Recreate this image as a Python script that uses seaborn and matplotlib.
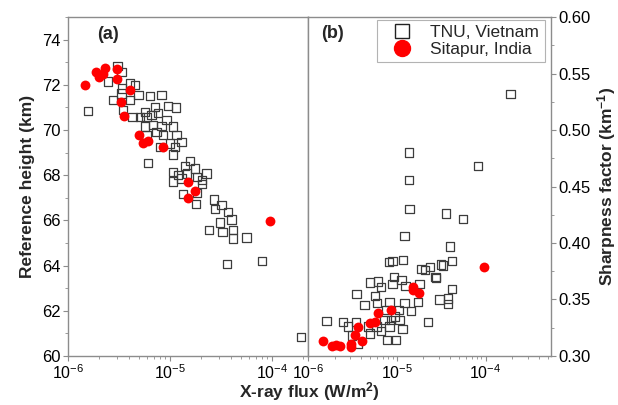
import numpy as np
import pandas as pd
import matplotlib
matplotlib.use("Agg")
import matplotlib.pyplot as plt
import seaborn as sns
from matplotlib.lines import Line2D
from matplotlib.ticker import LogLocator, MultipleLocator, NullFormatter, FormatStrFormatter

# ---------------- data ----------------
tnu_a_flux = [3.05e-6, 3.36e-6, 2.48e-6, 3.41e-6, 4.06e-6, 4.54e-6, 3.36e-6, 4.06e-6, 4.9e-6, 2.78e-6,
              6.37e-6, 8.28e-6, 3.48e-6, 5.69e-6, 7.13e-6, 9.6e-6, 1.15e-5, 4.31e-6, 5.08e-6, 5.9e-6,
              6.6e-6, 7.67e-6, 9.27e-6, 5.69e-6, 6.87e-6, 8.28e-6, 1.08e-5, 5.9e-6, 7.4e-6, 8.6e-6,
              1.16e-5, 1.3e-5, 7.98e-6, 1.0e-5, 1.12e-5, 6.12e-6, 1.08e-5, 1.57e-5, 1.4e-5, 1.76e-5,
              1.08e-5, 1.2e-5, 1.46e-5, 1.83e-5, 2.29e-5, 1.3e-5, 2.05e-5, 1.08e-5, 2.05e-5, 1.35e-5,
              1.83e-5, 1.8e-5, 2.72e-5, 2.76e-5, 3.21e-5, 3.73e-5, 3.09e-5, 4.03e-5, 2.41e-5, 3.29e-5,
              4.18e-5, 4.18e-5, 5.65e-5, 3.65e-5, 8.04e-5, 1.92e-4, 1.57e-6]
tnu_a_height = [72.83, 72.58, 72.14, 71.84, 72.06, 71.99, 71.62, 71.33, 71.55, 71.33,
                71.5, 71.55, 70.88, 70.81, 71.03, 71.06, 71.0, 70.59, 70.59, 70.59,
                70.66, 70.74, 70.44, 70.15, 70.22, 70.18, 70.15, 69.78, 69.92, 69.78,
                69.78, 69.48, 69.26, 69.41, 69.26, 68.55, 68.92, 68.63, 68.42, 68.3,
                68.15, 68.0, 68.08, 67.93, 68.08, 67.86, 67.79, 67.72, 67.6, 67.17,
                67.2, 66.73, 66.93, 66.5, 66.68, 66.38, 65.9, 66.04, 65.58, 65.5,
                65.58, 65.2, 65.25, 64.06, 64.2, 60.83, 70.84]

sit_a_flux = [1.47e-6, 1.88e-6, 2.0e-6, 2.2e-6, 2.3e-6, 3.0e-6, 3.0e-6, 4.07e-6, 3.3e-6,
              3.55e-6, 5.0e-6, 5.45e-6, 6.1e-6, 8.5e-6, 1.5e-5, 1.76e-5, 1.5e-5, 9.5e-5]
sit_a_height = [72.0, 72.57, 72.35, 72.5, 72.74, 72.7, 72.26, 71.77, 71.24,
                70.6, 69.78, 69.42, 69.5, 69.25, 67.7, 67.3, 67.0, 65.97]

tnu_b_flux = [1.91e-4, 1.37e-5, 8.18e-5, 1.37e-5, 1.40e-5, 3.61e-5, 5.56e-5, 1.23e-5, 4.01e-5, 8.2e-6,
              8.95e-6, 1.18e-5, 1.9e-5, 2.07e-5, 2.39e-5, 3.17e-5, 3.31e-5, 4.18e-5, 2.74e-5, 2.77e-5,
              9.33e-6, 1.13e-5, 8.95e-6, 1.26e-5, 1.81e-5, 4.98e-6, 6.17e-6, 6.72e-6, 5.66e-6, 3.52e-6,
              4.21e-5, 3.04e-5, 3.76e-5, 3.76e-5, 8.33e-6, 1.23e-5, 1.74e-5, 4.36e-6, 6.01e-6, 7.66e-6,
              1.06e-5, 1.46e-5, 2.25e-5, 1.62e-6, 2.49e-6, 2.84e-6, 3.46e-6, 4.77e-6, 5.92e-6, 7.33e-6,
              8.33e-6, 1.08e-5, 1.16e-5, 6.72e-6, 3.17e-6, 4.98e-6, 3.67e-6, 7.78e-6, 9.75e-6, 9.5e-6,
              8.7e-6]
tnu_b_sharp = [0.532, 0.480, 0.468, 0.456, 0.430, 0.426, 0.421, 0.406, 0.397, 0.383,
               0.384, 0.385, 0.377, 0.376, 0.379, 0.381, 0.380, 0.384, 0.370, 0.369,
               0.370, 0.367, 0.364, 0.362, 0.364, 0.365, 0.366, 0.361, 0.353, 0.355,
               0.359, 0.350, 0.351, 0.346, 0.348, 0.347, 0.348, 0.345, 0.347, 0.341,
               0.341, 0.340, 0.330, 0.331, 0.330, 0.326, 0.330, 0.326, 0.326, 0.332,
               0.326, 0.332, 0.324, 0.322, 0.318, 0.320, 0.311, 0.314, 0.314, 0.335,
               0.332]

sit_b_flux = [1.49e-6, 1.89e-6, 2.1e-6, 2.33e-6, 3.1e-6, 3.1e-6, 4.12e-6, 3.37e-6, 3.67e-6,
              4.98e-6, 5.66e-6, 6.17e-6, 8.7e-6, 1.52e-5, 1.52e-5, 1.78e-5, 9.58e-5]
sit_b_sharp = [0.313, 0.309, 0.310, 0.309, 0.311, 0.308, 0.313, 0.319, 0.326,
               0.329, 0.330, 0.338, 0.341, 0.361, 0.358, 0.356, 0.379]

series_names = ["TNU, Vietnam", "Sitapur, India"]
panel_labels = ["(a)", "(b)"]

# ---------------- style ----------------
sns.set_style("ticks")
plt.rcParams['font.family'] = ['Liberation Sans', 'DejaVu Sans']
plt.rcParams['mathtext.fontset'] = 'custom'
plt.rcParams['mathtext.rm'] = 'Liberation Sans'
plt.rcParams['mathtext.it'] = 'Liberation Sans:italic'
plt.rcParams['mathtext.bf'] = 'Liberation Sans:bold'
plt.rcParams['mathtext.default'] = 'regular'

spine_c = '#8c8c8c'
sq_c = '#3c3c3c'
red = '#ff0000'

fig = plt.figure(figsize=(6.18, 4.05), dpi=100)
axa = fig.add_axes([0.110, 0.121, 0.388, 0.837])
axb = fig.add_axes([0.498, 0.121, 0.393, 0.837])

sns.scatterplot(x=tnu_a_flux, y=tnu_a_height, ax=axa, marker='s', s=36,
                facecolors='none', edgecolor=sq_c, linewidth=0.9, zorder=2)
sns.scatterplot(x=sit_a_flux, y=sit_a_height, ax=axa, marker='o', s=50,
                color=red, edgecolor=red, linewidth=0, zorder=3)
sns.scatterplot(x=tnu_b_flux, y=tnu_b_sharp, ax=axb, marker='s', s=36,
                facecolors='none', edgecolor=sq_c, linewidth=0.9, zorder=2)
sns.scatterplot(x=sit_b_flux, y=sit_b_sharp, ax=axb, marker='o', s=50,
                color=red, edgecolor=red, linewidth=0, zorder=3)

for ax, xmax in [(axa, 2.25e-4), (axb, 5.4e-4)]:
    ax.set_xscale('log')
    ax.set_xlim(1e-6, xmax)
    ax.xaxis.set_major_locator(LogLocator(base=10, numticks=10))
    ax.xaxis.set_minor_locator(LogLocator(base=10, subs=np.arange(2, 10), numticks=10))
    ax.xaxis.set_minor_formatter(NullFormatter())
    for sp in ax.spines.values():
        sp.set_color(spine_c)
        sp.set_linewidth(1.0)
    ax.tick_params(which='both', direction='out', color=spine_c, labelcolor='black')
    ax.tick_params(axis='y', labelsize=12)
    ax.tick_params(axis='x', labelsize=11.5)
    ax.tick_params(which='major', length=3.5, width=0.8, pad=2)
    ax.tick_params(which='minor', length=2, width=0.6)
    ax.set_xlabel('')
    ax.set_ylabel('')

axa.set_ylim(60, 75)
axa.yaxis.set_major_locator(MultipleLocator(2))
axa.yaxis.set_minor_locator(MultipleLocator(1))
axa.set_ylabel('Reference height (km)', fontsize=12.5, fontweight='bold', labelpad=5)

axb.set_ylim(0.30, 0.60)
axb.yaxis.set_major_locator(MultipleLocator(0.05))
axb.yaxis.set_minor_locator(MultipleLocator(0.025))
axb.yaxis.tick_right()
axb.yaxis.set_label_position('right')
axb.yaxis.set_major_formatter(FormatStrFormatter('%.2f'))
axb.set_ylabel('Sharpness factor (km$^{-1}$)', fontsize=12.5, fontweight='bold',
               labelpad=3)

axa.text(0.12, 0.947, panel_labels[0], transform=axa.transAxes, fontsize=13,
         fontweight='bold', va='center', ha='left')
axb.text(0.057, 0.95, panel_labels[1], transform=axb.transAxes, fontsize=13,
         fontweight='bold', va='center', ha='left')

fig.text(0.501, 0.032, 'X-ray flux (W/m$^2$)', ha='center', va='center',
         fontsize=12.5, fontweight='bold')

handles = [Line2D([], [], marker='s', ls='none', mfc='none', mec='#222222', ms=9.5, mew=1.0),
           Line2D([], [], marker='o', ls='none', mfc=red, mec=red, ms=11.5)]
leg = axb.legend(handles, series_names, loc='upper right', bbox_to_anchor=(0.975, 0.992),
                 borderaxespad=0, fontsize=12.5, frameon=True, fancybox=False,
                 edgecolor='#a0a0a0', handletextpad=0.5, borderpad=0.3,
                 labelspacing=0.1, handlelength=2.3)
leg.get_frame().set_linewidth(0.8)

fig.savefig('out.png', dpi=100)
